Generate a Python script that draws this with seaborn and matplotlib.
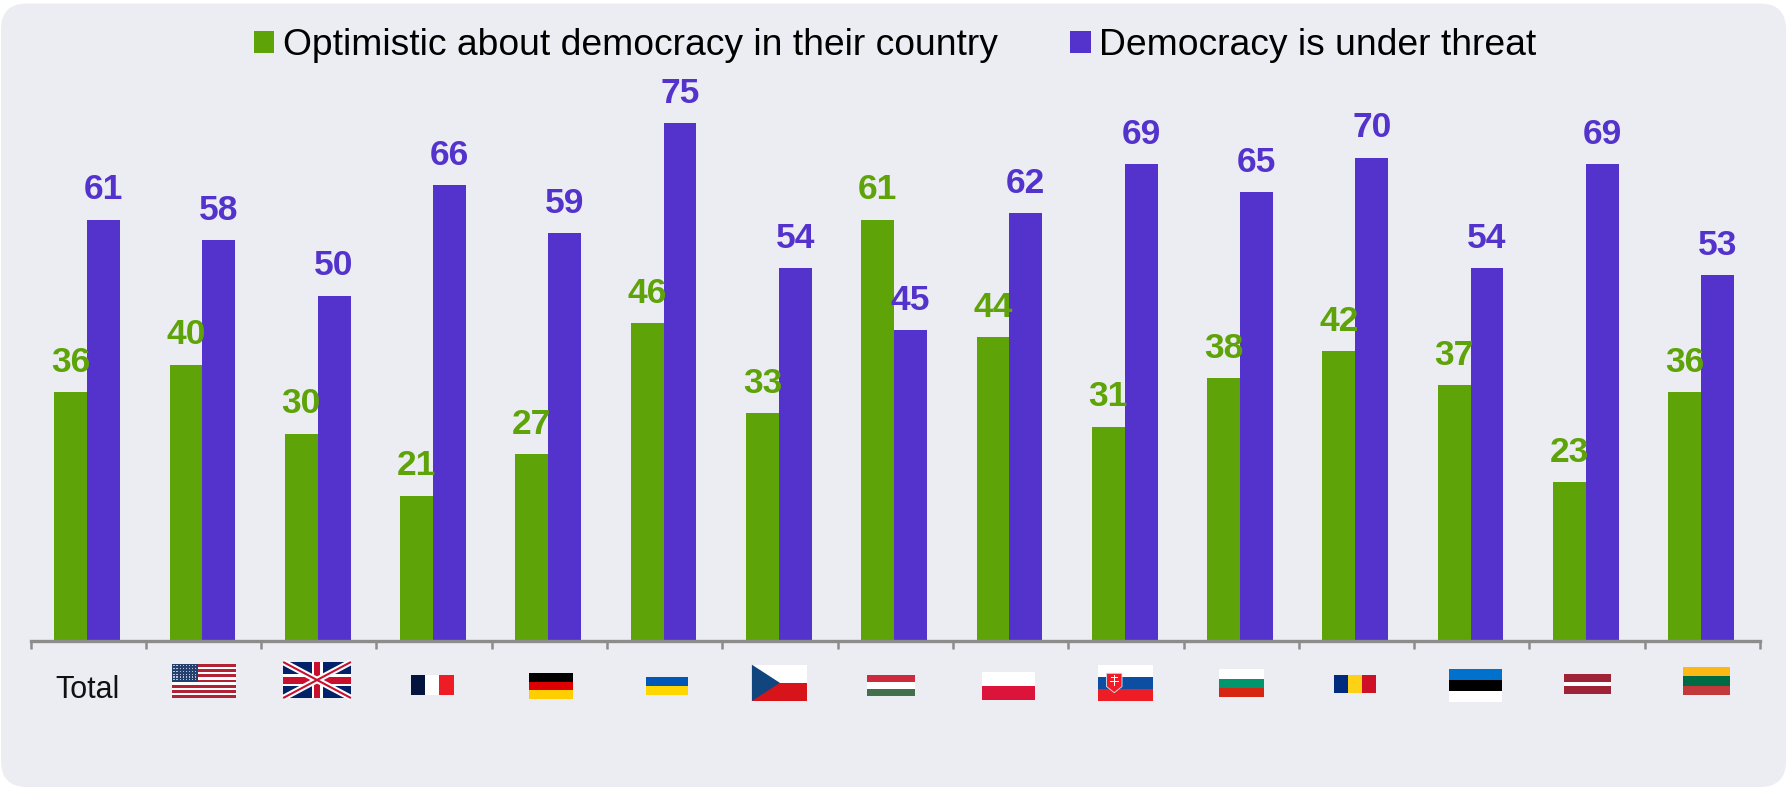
import pandas as pd
import seaborn as sns
import matplotlib.pyplot as plt
from matplotlib.patches import FancyBboxPatch, Polygon, Rectangle

# values
countries = ['Total', 'USA', 'UK', 'France', 'Germany', 'Ukraine', 'Czechia', 'Hungary',
             'Poland', 'Slovakia', 'Bulgaria', 'Romania', 'Estonia', 'Latvia', 'Lithuania']
optimistic = [36, 40, 30, 21, 27, 46, 33, 61, 44, 31, 38, 42, 37, 23, 36]
threat = [61, 58, 50, 66, 59, 75, 54, 45, 62, 69, 65, 70, 54, 69, 53]
series_names = ['Optimistic about democracy in their country', 'Democracy is under threat']

GREEN = '#5EA308'
PURPLE = '#5433CC'
BG = '#ECEDF3'
GREY = '#8C8C8C'
W, H = 1787, 788
BASE = 640.5   # pixel row of the axis line

df = pd.DataFrame({
    'country': countries * 2,
    'series': [series_names[0]] * 15 + [series_names[1]] * 15,
    'value': optimistic + threat,
})

sns.set_style('white')
plt.rcParams['font.family'] = ['Liberation Sans', 'DejaVu Sans']

fig = plt.figure(figsize=(W / 100, H / 100), dpi=100, facecolor='white')

# backdrop and flags live on a pixel-coordinate axes behind the chart
bg = fig.add_axes([0, 0, 1, 1], zorder=0)
bg.set_xlim(0, W)
bg.set_ylim(H, 0)
bg.axis('off')
bg.add_patch(FancyBboxPatch((1, 3.5), W - 2, H - 4.5, boxstyle='round,pad=0,rounding_size=26',
                            fc=BG, ec='none'))

ax = fig.add_axes([30.6 / W, (H - BASE) / H, (1760 - 30.6) / W, BASE / H], zorder=1)
ax.patch.set_alpha(0)
sns.barplot(data=df, x='country', y='value', hue='series', order=countries,
            palette=[GREEN, PURPLE], width=0.57, saturation=1, linewidth=0, ax=ax, legend=True)
# bars sit a little left of the middle of each tick interval
ax.set_xlim(-0.49, 14.51)
ax.set_ylim(0, BASE / 6.9)
ax.set_xlabel('')
ax.set_ylabel('')
ax.set_yticks([])
ax.set_xticks([i - 0.49 for i in range(16)], [''] * 16)
ax.tick_params(axis='x', length=5.8, width=1.8, color=GREY, bottom=True)
sns.despine(ax=ax, left=True)
ax.spines['bottom'].set_color(GREY)
ax.spines['bottom'].set_linewidth(2.4)

for container, color in zip(ax.containers, [GREEN, PURPLE]):
    labels = ax.bar_label(container, padding=9.5, color=color, fontsize=25.5, fontweight='bold')
    for t in labels:
        t.set_zorder(10)

handles, names = ax.get_legend_handles_labels()
ax.legend(handles, names, ncols=2, frameon=False, fontsize=26.8, loc='upper center',
          labelcolor='black', bbox_to_anchor=(0.5, 1.0), borderaxespad=0.35, handlelength=0.54,
          handleheight=0.54, handletextpad=0.24, columnspacing=1.95)

fig.text(87.5 / W, 1 - 698.3 / H, 'Total', fontsize=22, color='#111111', ha='center', va='baseline')


def stripes(x0, x1, y0, y1, colors):
    h = (y1 - y0) / len(colors)
    for i, c in enumerate(colors):
        bg.add_patch(Rectangle((x0, y0 + i * h), x1 - x0, h, fc=c, ec='none'))


def columns(x0, x1, y0, y1, colors):
    w = (x1 - x0) / len(colors)
    for i, c in enumerate(colors):
        bg.add_patch(Rectangle((x0 + i * w, y0), w, y1 - y0, fc=c, ec='none'))


# USA
x0, x1, y0, y1 = 171.8, 236.1, 664, 698
stripes(x0, x1, y0, y1, ['#B22234', '#FFFFFF'] * 6 + ['#B22234'])
bg.add_patch(Rectangle((x0, y0), 26, 18.3, fc='#24406F', ec='none'))
for row in range(6):
    for col in range(8):
        bg.add_patch(Rectangle((x0 + 1.5 + col * 3.1, y0 + 1.2 + row * 2.8), 1.2, 1.1,
                               fc='#B8C2D6', ec='none'))

# UK
x0, x1, y0, y1 = 283.2, 350.9, 662, 698
bg.add_patch(Rectangle((x0, y0), x1 - x0, y1 - y0, fc='#012169', ec='none'))
bg.plot([x0, x1], [y0, y1], color='white', lw=4.5, solid_capstyle='butt')
bg.plot([x0, x1], [y1, y0], color='white', lw=4.5, solid_capstyle='butt')
bg.plot([x0, x1], [y0, y1], color='#C8102E', lw=1.5, solid_capstyle='butt')
bg.plot([x0, x1], [y1, y0], color='#C8102E', lw=1.5, solid_capstyle='butt')
cx, cy = (x0 + x1) / 2, (y0 + y1) / 2
bg.add_patch(Rectangle((cx - 5.5, y0), 11, y1 - y0, fc='white', ec='none'))
bg.add_patch(Rectangle((x0, cy - 6), x1 - x0, 12, fc='white', ec='none'))
bg.add_patch(Rectangle((cx - 3.2, y0), 6.4, y1 - y0, fc='#C8102E', ec='none'))
bg.add_patch(Rectangle((x0, cy - 3.5), x1 - x0, 7, fc='#C8102E', ec='none'))

columns(411.4, 453.5, 675, 695, ['#04143F', '#FFFFFF', '#EE1C25'])
stripes(529.3, 572.9, 673, 699, ['#000000', '#DD0000', '#FFCE00'])
stripes(645.9, 688, 677, 695, ['#0057B7', '#FFD700'])

# Czechia
x0, x1, y0, y1 = 751.9, 807.4, 664.7, 701
stripes(x0, x1, y0, y1, ['#FFFFFF', '#D7141A'])
bg.add_patch(Polygon([(x0, y0), (x0 + 28, (y0 + y1) / 2), (x0, y1)], fc='#11457E', ec='none'))

stripes(867.1, 915.3, 675.3, 696, ['#CD2A3E', '#FFFFFF', '#436F4D'])
stripes(981.9, 1034.7, 671.7, 700, ['#FFFFFF', '#DC143C'])

# Slovakia
x0, x1, y0, y1 = 1097.5, 1153.4, 664.7, 701
stripes(x0, x1, y0, y1, ['#FFFFFF', '#0B4EA2', '#EE1C25'])
bg.add_patch(Polygon([(1106.5, 673.3), (1122, 673.3), (1122, 686.5), (1114.3, 692.7), (1106.5, 686.5)],
                     fc='#EE1C25', ec='#C9D6EA', lw=0.7))
bg.add_patch(Rectangle((1113.6, 674.5), 1.4, 11, fc='white', ec='none'))
bg.add_patch(Rectangle((1111, 677.2), 6.6, 1.2, fc='white', ec='none'))
bg.add_patch(Rectangle((1110, 680.6), 8.6, 1.2, fc='white', ec='none'))

stripes(1219.1, 1264.2, 669.3, 697, ['#FFFFFF', '#00966E', '#D62612'])
columns(1333.9, 1376, 675, 693, ['#002B7F', '#FCD116', '#CE1126'])
stripes(1449.1, 1501.5, 669, 702, ['#0072CE', '#000000', '#FFFFFF'])
stripes(1564.3, 1610.6, 674, 694, ['#9E2337', '#9E2337', '#FFFFFF', '#9E2337', '#9E2337'])
stripes(1682.5, 1729.6, 667, 695, ['#FDB913', '#006A44', '#C1393A'])

fig.savefig('out.png', dpi=100)
